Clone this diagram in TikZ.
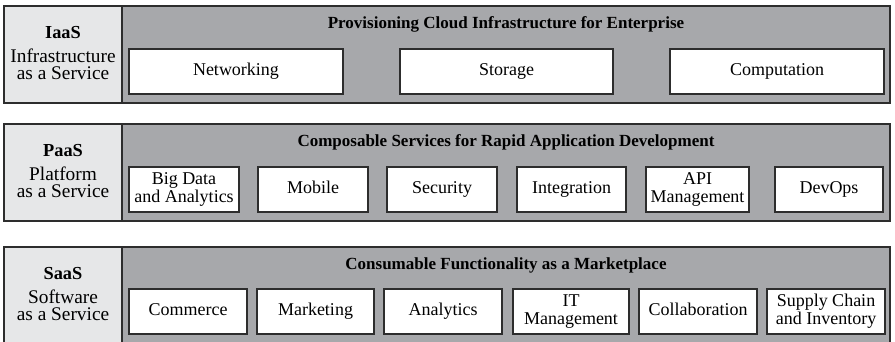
\documentclass[tikz,border=0pt]{standalone}
\usepackage{fontspec}
\setmainfont{Liberation Serif}
\usetikzlibrary{positioning}
\definecolor{panelgray}{RGB}{167,168,171}
\definecolor{taggray}{RGB}{230,231,232}
\definecolor{edgegray}{RGB}{45,45,45}
\tikzset{
  layer/.style={draw=edgegray,fill=panelgray,line width=.7pt},
  tag/.style={draw=edgegray,fill=taggray,line width=.7pt},
  item/.style={draw=edgegray,fill=white,line width=.7pt,align=center,inner sep=0pt,minimum height=27pt},
  one/.style={text height=7.4pt,text depth=2.4pt},
  two/.style={},
  heading/.style={font=\fontsize{10.2}{10}\selectfont\bfseries},
  abbrev/.style={font=\fontsize{11}{10}\selectfont\bfseries},
  label/.style={font=\fontsize{11.6}{12}\selectfont},
}
\begin{document}
\begin{tikzpicture}[x=.6pt,y=-.6pt,font=\fontsize{10.8}{10.6}\selectfont]
\useasboundingbox (0,0) rectangle (895,341);
% the three service layers
\foreach \y/\abbr/\la/\lb/\head in {6/IaaS/Infrastructure/as a Service/Provisioning Cloud Infrastructure for Enterprise,
    124/PaaS/Platform/as a Service/Composable Services for Rapid Application Development,
    247/SaaS/Software/as a Service/Consumable Functionality as a Marketplace}{
  \draw[layer] (4,\y) rectangle (890,\y+97);
  \draw[tag] (4,\y) rectangle (122,\y+97);
  \node[abbrev,anchor=base] (\abbr-tag) at (63,\y+32) {\abbr};
  \node[label,anchor=base] (\abbr-la) at (63,\y+56) {\la};
  \node[label,anchor=base] (\abbr-lb) at (63,\y+73) {\lb};
  \node[heading,anchor=base] (\abbr-head) at (506,\y+22) {\head};
}
% IaaS
\foreach \l/\r/\s/\t [count=\i] in {129/343/one/Networking,400/613/one/Storage,670/884/one/Computation}
  \node[item,\s,minimum width={(\r-\l)*.6pt}] (iaas\i) at ({(\l+\r)/2},71.5) {\t};
% PaaS
\foreach \l/\r/\s/\t [count=\i] in {129/239/two/{Big Data\\and Analytics},258/368/one/Mobile,387/497/one/Security,
    517/626/one/Integration,646/749/two/{API\\Management},775/883/one/DevOps}
  \node[item,\s,minimum width={(\r-\l)*.6pt}] (paas\i) at ({(\l+\r)/2},189.5) {\t};
% SaaS
\foreach \l/\r/\s/\t [count=\i] in {129/247/one/Commerce,257/374/one/Marketing,384/502/one/Analytics,
    513/629/two/{IT\\Management},639/757/one/Collaboration,767/885/two/{Supply Chain\\and Inventory}}
  \node[item,\s,minimum width={(\r-\l)*.6pt}] (saas\i) at ({(\l+\r)/2},311.5) {\t};
\end{tikzpicture}
\end{document}
